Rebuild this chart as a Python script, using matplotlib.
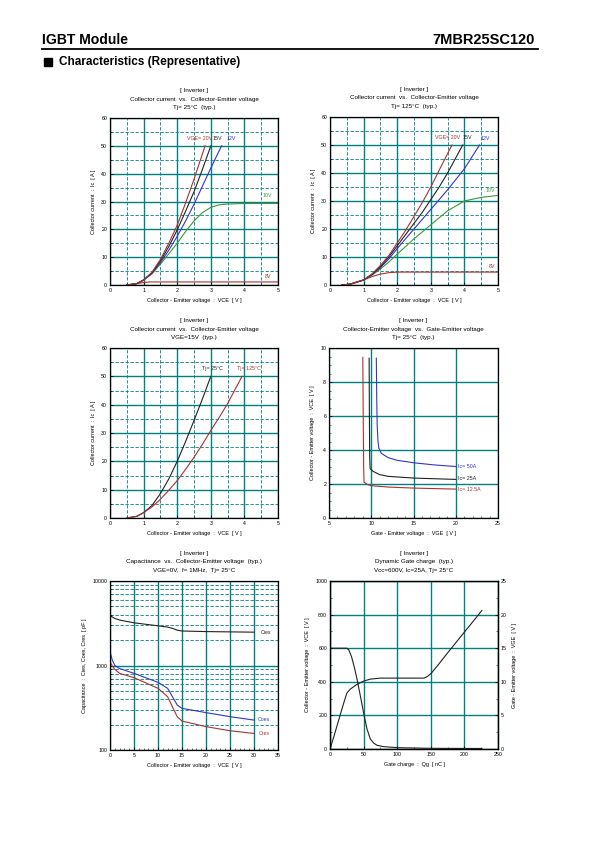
import matplotlib
matplotlib.use('Agg')
import matplotlib.pyplot as plt
from matplotlib.ticker import MultipleLocator, LogLocator, NullFormatter, FixedLocator, FixedFormatter
from matplotlib.patches import Rectangle

plt.rcParams['font.family'] = ['Liberation Sans', 'DejaVu Sans']

# ---------------- data ----------------
# Plot 1: Ic vs VCE, Tj=25C
p1_20v_x = [0.5, 0.8, 1.0, 1.25, 1.5, 1.75, 2.0, 2.25, 2.5, 2.83]
p1_20v_y = [0.0, 0.5, 1.8, 4.6, 9.2, 15.0, 21.5, 29.5, 38.0, 50.0]
p1_15v_x = [0.5, 0.8, 1.0, 1.25, 1.5, 1.75, 2.0, 2.25, 2.5, 2.75, 3.0]
p1_15v_y = [0.0, 0.5, 1.8, 4.4, 8.6, 13.8, 19.8, 26.5, 33.5, 41.5, 50.0]
p1_12v_x = [0.5, 0.8, 1.0, 1.25, 1.5, 1.75, 2.0, 2.25, 2.5, 2.75, 3.0, 3.32]
p1_12v_y = [0.0, 0.5, 1.8, 4.2, 8.0, 12.5, 17.5, 23.0, 29.0, 35.5, 42.0, 50.0]
p1_10v_x = [0.5, 0.8, 1.0, 1.25, 1.5, 1.75, 2.0, 2.25, 2.5, 2.75, 3.0, 3.25, 3.5, 4.0, 5.0]
p1_10v_y = [0.0, 0.5, 1.8, 4.0, 7.5, 11.2, 15.0, 19.2, 23.0, 26.0, 27.9, 28.8, 29.1, 29.3, 29.3]
p1_8v_x = [0.5, 0.8, 1.0, 1.2, 5.0]
p1_8v_y = [0.0, 0.5, 0.9, 1.1, 1.1]

# Plot 2: Ic vs VCE, Tj=125C
p2_20v_x = [0.35, 0.6, 1.0, 1.25, 1.5, 1.75, 2.0, 2.25, 2.5, 2.75, 3.0, 3.25, 3.63]
p2_20v_y = [0.0, 0.3, 1.8, 4.0, 7.0, 10.5, 15.0, 19.5, 24.5, 29.5, 35.0, 41.0, 50.0]
p2_15v_x = [0.35, 0.6, 1.0, 1.25, 1.5, 1.75, 2.0, 2.25, 2.5, 2.75, 3.0, 3.25, 3.5, 3.95]
p2_15v_y = [0.0, 0.3, 1.8, 3.8, 6.5, 10.0, 14.0, 18.0, 22.0, 26.0, 30.5, 35.0, 40.0, 50.0]
p2_12v_x = [0.35, 0.6, 1.0, 1.25, 1.5, 1.75, 2.0, 2.5, 3.0, 3.5, 4.0, 4.45]
p2_12v_y = [0.0, 0.3, 1.8, 3.7, 6.2, 9.3, 13.0, 20.0, 27.0, 34.0, 41.5, 50.0]
p2_10v_x = [0.35, 0.6, 1.0, 1.25, 1.5, 1.75, 2.0, 2.5, 3.0, 3.5, 4.0, 4.5, 5.0]
p2_10v_y = [0.0, 0.3, 1.8, 3.5, 5.7, 8.2, 11.0, 16.5, 21.5, 26.5, 30.0, 31.3, 32.0]
p2_8v_x = [0.35, 0.6, 1.0, 1.25, 1.5, 1.75, 2.0, 5.0]
p2_8v_y = [0.0, 0.3, 1.8, 3.0, 3.9, 4.4, 4.6, 4.6]

# Plot 3: Ic vs VCE, VGE=15V
p3_25_x = [0.5, 0.8, 1.0, 1.25, 1.5, 1.75, 2.0, 2.25, 2.5, 2.75, 3.0]
p3_25_y = [0.0, 0.6, 1.9, 4.4, 8.6, 13.8, 20.0, 27.0, 34.4, 42.0, 50.0]
p3_125_x = [0.5, 0.8, 1.0, 1.25, 1.5, 1.75, 2.0, 2.25, 2.5, 2.75, 3.0, 3.25, 3.5, 3.93]
p3_125_y = [0.0, 0.6, 1.9, 3.9, 6.6, 9.8, 13.2, 17.2, 21.4, 26.0, 30.9, 35.5, 40.4, 50.0]

# Plot 4: VCE vs VGE
p4_50_x = [10.6, 10.65, 10.7, 10.8, 10.9, 11.2, 12.0, 13.0, 15.0, 17.5, 20.0]
p4_50_y = [9.4, 7.0, 5.5, 4.5, 4.1, 3.8, 3.55, 3.4, 3.25, 3.12, 3.03]
p4_25_x = [9.75, 9.78, 9.82, 9.87, 10.2, 11.0, 12.0, 15.0, 20.0]
p4_25_y = [9.4, 6.0, 3.5, 2.9, 2.75, 2.55, 2.45, 2.35, 2.27]
p4_12_x = [9.0, 9.05, 9.1, 9.15, 9.5, 10.0, 12.0, 15.0, 20.0]
p4_12_y = [9.45, 6.0, 3.0, 2.1, 1.98, 1.9, 1.82, 1.76, 1.70]

# Plot 5: Capacitance vs VCE
p5_x = [0, 0.5, 1, 2, 5, 10, 12, 13, 14, 15, 20, 25, 30]
p5_cies = [3900, 3750, 3600, 3450, 3200, 2950, 2850, 2750, 2620, 2560, 2520, 2500, 2480]
p5_coes = [1450, 1150, 1000, 920, 808, 632, 537, 428, 341, 311, 277, 248, 226]
p5_cres = [1110, 980, 900, 808, 718, 537, 428, 325, 248, 220, 189, 169, 157]

# Plot 6: Gate charge
p6_vce_q = [0, 25, 28, 32, 36, 40, 45, 50, 55, 60, 65, 70, 80, 100, 150, 226]
p6_vce_v = [600, 600, 590, 550, 490, 420, 320, 215, 120, 60, 35, 22, 14, 8, 4, 3]
p6_vge_q = [0, 5, 10, 15, 20, 25, 30, 40, 50, 60, 75, 100, 140, 145, 150, 160, 175, 200, 226]
p6_vge_v = [0, 1.6, 3.3, 5.0, 6.7, 8.3, 8.9, 9.6, 10.1, 10.4, 10.55, 10.55, 10.55, 10.8, 11.2, 12.4, 14.3, 17.4, 20.6]

# ---------------- style ----------------
W, H = 595, 842
TEAL = '#008080'
RED = '#a83232'
BLUE = '#3434c8'
GREEN = '#3a9a3a'
BLK = '#222222'
FT = 4.5   # title
FL = 4.0   # axis label
FK = 3.8   # tick labels
LW = 0.8

fig = plt.figure(figsize=(W / 100, H / 100), dpi=100)


def px(x, y):
    return x / W, 1 - y / H


def make_ax(l, t, r, b):
    ax = fig.add_axes([l / W, 1 - b / H, (r - l) / W, (b - t) / H])
    for s in ax.spines.values():
        s.set_linewidth(0.9)
        s.set_color('black')
    ax.tick_params(which='both', direction='in', labelsize=FK, pad=2,
                   top=False, right=False)
    ax.tick_params(which='major', length=2, width=0.5)
    ax.tick_params(which='minor', length=1.5, width=0.4)
    ax.set_axisbelow(True)
    return ax


def titles(ax, lines):
    l, b, w, h = ax.get_position().bounds
    cx = l + w / 2
    top = b + h
    n = len(lines)
    for i, s in enumerate(lines):
        dy = (8 + 8.5 * (n - 1 - i)) / H
        fig.text(cx, top + dy, s, ha='center', va='bottom', fontsize=FT)


def grid(ax, minor=True):
    ax.grid(which='major', color=TEAL, lw=1.0, ls='-')
    if minor:
        ax.grid(which='minor', color=TEAL, lw=0.6, ls=(0, (4, 2)))


def ic_axes(ax):
    ax.set_xlim(0, 5)
    ax.set_ylim(0, 60)
    ax.xaxis.set_major_locator(MultipleLocator(1))
    ax.xaxis.set_minor_locator(MultipleLocator(0.5))
    ax.yaxis.set_major_locator(MultipleLocator(10))
    ax.yaxis.set_minor_locator(MultipleLocator(5))
    grid(ax)
    ax.set_xlabel('Collector - Emitter voltage  :  VCE  [ V ]', fontsize=FL, labelpad=4)
    ax.set_ylabel('Collector current  :  Ic  [ A ]', fontsize=FL, labelpad=4)


# ---------------- header ----------------
fig.text(*px(42, 40), 'IGBT Module', fontsize=10.1, fontweight='bold', va='center', ha='left')
fig.text(*px(535, 40), '7MBR25SC120', fontsize=10.5, fontweight='bold', va='center', ha='right')
fig.add_artist(plt.Line2D([42 / W, 538 / W], [1 - 48.5 / H, 1 - 48.5 / H], color='black', lw=1.3))
fig.add_artist(Rectangle(px(44, 66), 8 / W, 8 / H, color='black', transform=fig.transFigure))
fig.text(*px(59, 62), 'Characteristics (Representative)', fontsize=8.5, fontweight='bold', va='center', ha='left')

# ---------------- plot 1 ----------------
ax1 = make_ax(110, 118, 278, 285)
ic_axes(ax1)
ax1.plot(p1_8v_x, p1_8v_y, color=RED, lw=LW)
ax1.plot(p1_10v_x, p1_10v_y, color=GREEN, lw=LW)
ax1.plot(p1_12v_x, p1_12v_y, color=BLUE, lw=LW)
ax1.plot(p1_15v_x, p1_15v_y, color=BLK, lw=LW)
ax1.plot(p1_20v_x, p1_20v_y, color=RED, lw=LW)
ax1.text(2.29, 52.6, 'VGE= 20V', color=RED, fontsize=FK, va='center')
ax1.text(3.04, 52.6, '15V', color=BLK, fontsize=FK, va='center')
ax1.text(3.48, 52.6, '12V', color=BLUE, fontsize=FK, va='center')
ax1.text(4.55, 32.1, '10V', color=GREEN, fontsize=FK, va='center')
ax1.text(4.62, 3.2, '8V', color=RED, fontsize=FK, va='center')
titles(ax1, ['[ Inverter ]', 'Collector current  vs.  Collector-Emitter voltage', 'Tj= 25°C  (typ.)'])

# ---------------- plot 2 ----------------
ax2 = make_ax(330, 117, 498, 285)
ic_axes(ax2)
ax2.plot(p2_8v_x, p2_8v_y, color=RED, lw=LW)
ax2.plot(p2_10v_x, p2_10v_y, color=GREEN, lw=LW)
ax2.plot(p2_12v_x, p2_12v_y, color=BLUE, lw=LW)
ax2.plot(p2_15v_x, p2_15v_y, color=BLK, lw=LW)
ax2.plot(p2_20v_x, p2_20v_y, color=RED, lw=LW)
ax2.text(3.12, 52.7, 'VGE= 20V', color=RED, fontsize=FK, va='center')
ax2.text(3.93, 52.7, '15V', color=BLK, fontsize=FK, va='center')
ax2.text(4.47, 52.4, '12V', color=BLUE, fontsize=FK, va='center')
ax2.text(4.63, 33.6, '10V', color=GREEN, fontsize=FK, va='center')
ax2.text(4.72, 6.6, '8V', color=RED, fontsize=FK, va='center')
titles(ax2, ['[ Inverter ]', 'Collector current  vs.  Collector-Emitter voltage', 'Tj= 125°C  (typ.)'])

# ---------------- plot 3 ----------------
ax3 = make_ax(110, 348, 278, 518)
ic_axes(ax3)
ax3.plot(p3_25_x, p3_25_y, color=BLK, lw=LW)
ax3.plot(p3_125_x, p3_125_y, color=RED, lw=LW)
ax3.text(2.73, 52.6, 'Tj= 25°C', color=BLK, fontsize=FK, va='center')
ax3.text(3.78, 52.6, 'Tj= 125°C', color=RED, fontsize=FK, va='center')
titles(ax3, ['[ Inverter ]', 'Collector current  vs.  Collector-Emitter voltage', 'VGE=15V  (typ.)'])

# ---------------- plot 4 ----------------
ax4 = make_ax(329, 348, 498, 518)
ax4.set_xlim(5, 25)
ax4.set_ylim(0, 10)
ax4.xaxis.set_major_locator(MultipleLocator(5))
ax4.xaxis.set_minor_locator(MultipleLocator(1))
ax4.yaxis.set_major_locator(MultipleLocator(2))
ax4.yaxis.set_minor_locator(MultipleLocator(0.5))
grid(ax4, minor=False)
ax4.plot(p4_12_x, p4_12_y, color=RED, lw=LW)
ax4.plot(p4_25_x, p4_25_y, color=BLK, lw=LW)
ax4.plot(p4_50_x, p4_50_y, color=BLUE, lw=LW)
ax4.text(20.3, 3.03, 'Ic= 50A', color=BLUE, fontsize=FK, va='center')
ax4.text(20.3, 2.3, 'Ic= 25A', color=BLK, fontsize=FK, va='center')
ax4.text(20.3, 1.68, 'Ic= 12.5A', color=RED, fontsize=FK, va='center')
ax4.set_xlabel('Gate - Emitter voltage  :  VGE  [ V ]', fontsize=FL, labelpad=4)
ax4.set_ylabel('Collector - Emitter voltage  :  VCE  [ V ]', fontsize=FL, labelpad=4)
titles(ax4, ['[ Inverter ]', 'Collector-Emitter voltage  vs.  Gate-Emitter voltage', 'Tj= 25°C  (typ.)'])

# ---------------- plot 5 ----------------
ax5 = make_ax(110, 581, 278, 750)
ax5.set_yscale('log')
ax5.set_xlim(0, 35)
ax5.set_ylim(100, 10000)
ax5.xaxis.set_major_locator(MultipleLocator(5))
ax5.xaxis.set_minor_locator(MultipleLocator(1))
ax5.yaxis.set_major_locator(FixedLocator([100, 1000, 10000]))
ax5.yaxis.set_major_formatter(FixedFormatter(['100', '1000', '10000']))
ax5.yaxis.set_minor_locator(LogLocator(base=10, subs=range(2, 10)))
ax5.yaxis.set_minor_formatter(NullFormatter())
ax5.xaxis.grid(True, which='major', color=TEAL, lw=1.0)
ax5.yaxis.grid(True, which='major', color=TEAL, lw=1.0)
ax5.yaxis.grid(True, which='minor', color=TEAL, lw=0.6, ls=(0, (4, 2)))
ax5.plot(p5_x, p5_cies, color=BLK, lw=LW)
ax5.plot(p5_x, p5_coes, color=BLUE, lw=LW)
ax5.plot(p5_x, p5_cres, color=RED, lw=LW)
ax5.text(31.5, 2480, 'Cies', color=BLK, fontsize=FK, va='center')
ax5.text(30.7, 232, 'Coes', color=BLUE, fontsize=FK, va='center')
ax5.text(30.9, 157, 'Cres', color=RED, fontsize=FK, va='center')
ax5.set_xlabel('Collector - Emitter voltage  :  VCE  [ V ]', fontsize=FL, labelpad=4)
ax5.set_ylabel('Capacitance  :  Cies, Coes, Cres  [ pF ]', fontsize=FL, labelpad=4)
titles(ax5, ['[ Inverter ]', 'Capacitance  vs.  Collector-Emitter voltage  (typ.)', 'VGE=0V,  f= 1MHz,  Tj= 25°C'])

# ---------------- plot 6 ----------------
ax6 = make_ax(330, 581, 498, 749)
ax6.set_xlim(0, 250)
ax6.set_ylim(0, 1000)
ax6.xaxis.set_major_locator(MultipleLocator(50))
ax6.xaxis.set_minor_locator(MultipleLocator(25))
ax6.yaxis.set_major_locator(MultipleLocator(200))
ax6.yaxis.set_minor_locator(MultipleLocator(100))
grid(ax6, minor=False)
ax6.plot(p6_vce_q, p6_vce_v, color=BLK, lw=LW)
ax6b = ax6.twinx()
ax6b.set_ylim(0, 25)
ax6b.yaxis.set_major_locator(MultipleLocator(5))
ax6b.yaxis.set_minor_locator(MultipleLocator(2.5))
ax6b.tick_params(which='both', direction='in', labelsize=FK, pad=2)
ax6b.tick_params(which='major', length=2, width=0.5)
ax6b.tick_params(which='minor', length=1.5, width=0.4)
for s in ax6b.spines.values():
    s.set_linewidth(0.9)
ax6b.plot(p6_vge_q, p6_vge_v, color=BLK, lw=LW)
ax6.set_xlabel('Gate charge  :  Qg  [ nC ]', fontsize=FL, labelpad=4)
ax6.set_ylabel('Collector - Emitter voltage  :  VCE  [ V ]', fontsize=FL, labelpad=4)
ax6b.set_ylabel('Gate - Emitter voltage  :  VGE  [ V ]', fontsize=FL, labelpad=4, rotation=90)
titles(ax6, ['[ Inverter ]', 'Dynamic Gate charge  (typ.)', 'Vcc=600V, Ic=25A, Tj= 25°C'])

fig.savefig('out.png', dpi=100)
